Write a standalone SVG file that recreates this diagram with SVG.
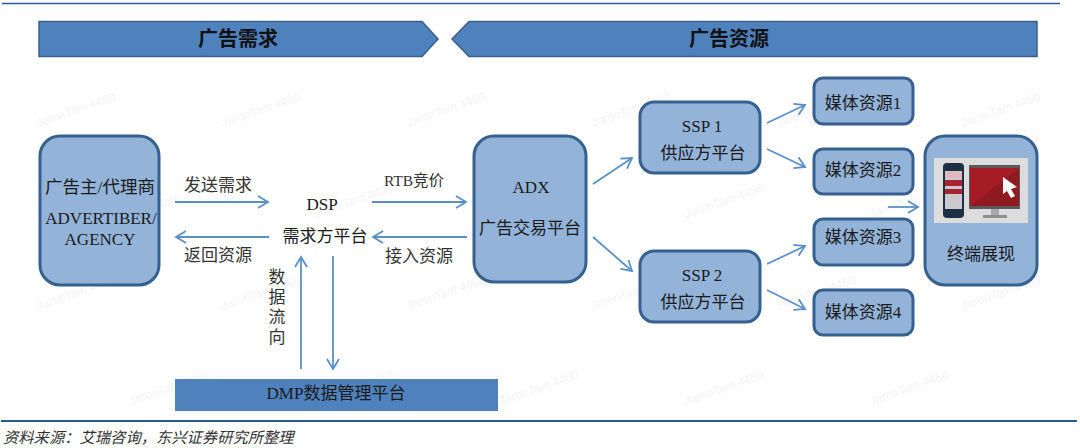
<svg xmlns="http://www.w3.org/2000/svg" width="1080" height="448" viewBox="0 0 1080 448">
<style>
text{font-family:"Liberation Serif","Noto Sans CJK SC",serif;fill:#1a1a1a;text-anchor:middle}
.l{font-size:17px;fill:#333}
.n{font-size:17px}
.h{font-size:20px;font-weight:bold;fill:#111}
.box{fill:#93b3d9;stroke:#36618f;stroke-width:3}
.ban{fill:#4f81bd;stroke:#3a6089;stroke-width:1.5}
.c{fill:none;stroke:#5b8fc6;stroke-width:1.8;marker-end:url(#a)}
.w{font-family:"Liberation Sans",sans-serif;font-size:12px;fill:#f3f4f6;text-anchor:start}
</style>
<defs>
<marker id="a" markerUnits="userSpaceOnUse" markerWidth="14" markerHeight="16" refX="11" refY="7" orient="auto">
<path d="M1 1L11 7L1 13" fill="none" stroke="#5b8fc6" stroke-width="1.8"/>
</marker>
</defs>
<rect width="1080" height="448" fill="#fff"/>
<g id="watermarks">
<text class="w" transform="translate(38 127) rotate(-19)">JaronTam 4460</text>
<text class="w" transform="translate(223 127) rotate(-19)">JaronTam 4460</text>
<text class="w" transform="translate(408 127) rotate(-19)">JaronTam 4460</text>
<text class="w" transform="translate(593 127) rotate(-19)">JaronTam 4460</text>
<text class="w" transform="translate(778 127) rotate(-19)">JaronTam 4460</text>
<text class="w" transform="translate(963 127) rotate(-19)">JaronTam 4460</text>
<text class="w" transform="translate(38 310) rotate(-19)">JaronTam 4460</text>
<text class="w" transform="translate(223 310) rotate(-19)">JaronTam 4460</text>
<text class="w" transform="translate(408 310) rotate(-19)">JaronTam 4460</text>
<text class="w" transform="translate(593 310) rotate(-19)">JaronTam 4460</text>
<text class="w" transform="translate(778 310) rotate(-19)">JaronTam 4460</text>
<text class="w" transform="translate(963 310) rotate(-19)">JaronTam 4460</text>
<text class="w" transform="translate(131 218) rotate(-19)">JaronTam 4460</text>
<text class="w" transform="translate(316 218) rotate(-19)">JaronTam 4460</text>
<text class="w" transform="translate(501 218) rotate(-19)">JaronTam 4460</text>
<text class="w" transform="translate(686 218) rotate(-19)">JaronTam 4460</text>
<text class="w" transform="translate(871 218) rotate(-19)">JaronTam 4460</text>
<text class="w" transform="translate(131 405) rotate(-19)">JaronTam 4460</text>
<text class="w" transform="translate(316 405) rotate(-19)">JaronTam 4460</text>
<text class="w" transform="translate(501 405) rotate(-19)">JaronTam 4460</text>
<text class="w" transform="translate(686 405) rotate(-19)">JaronTam 4460</text>
<text class="w" transform="translate(871 405) rotate(-19)">JaronTam 4460</text>
</g>
<g id="rules">
<line x1="2" y1="3.5" x2="1060" y2="3.5" stroke="#2c5a8a" stroke-width="1.5"/>
<line x1="1" y1="421" x2="1077" y2="421" stroke="#2c5a8a" stroke-width="1.8"/>
</g>
<g id="banner-demand">
<path class="ban" d="M39 21.500H422L438 39L422 56.500H39Z"/>
<text class="h" x="238" y="46">广告需求</text>
</g>
<g id="banner-resource">
<path class="ban" d="M1037 21.500H469L452 39L469 56.500H1037Z"/>
<text class="h" x="729" y="46">广告资源</text>
</g>
<g id="advertiser">
<rect class="box" x="40" y="136" width="119" height="149" rx="20"/>
<text x="100" y="193" style="font-size:17.500px">广告主/代理商</text>
<text class="n" x="101" y="224">ADVERTIBER/</text>
<text class="n" x="100" y="245">AGENCY</text>
</g>
<g id="dsp">
<text class="n" x="322" y="210">DSP</text>
<text class="n" x="325" y="242">需求方平台</text>
</g>
<g id="adx">
<rect class="box" x="474" y="136" width="112" height="146" rx="20"/>
<text class="n" x="531" y="193">ADX</text>
<text class="n" x="530" y="234">广告交易平台</text>
</g>
<g id="ssp1">
<rect class="box" x="640" y="102" width="120" height="71" rx="14"/>
<text class="n" x="702" y="132">SSP 1</text>
<text class="n" x="703" y="159">供应方平台</text>
</g>
<g id="ssp2">
<rect class="box" x="640" y="251" width="120" height="71" rx="14"/>
<text class="n" x="702" y="281">SSP 2</text>
<text class="n" x="703" y="308">供应方平台</text>
</g>
<g id="media1">
<rect class="box" x="814" y="78" width="99" height="46" rx="9"/>
<text class="n" x="863" y="109">媒体资源1</text>
</g>
<g id="media2">
<rect class="box" x="814" y="149" width="99" height="45" rx="9"/>
<text class="n" x="863" y="176">媒体资源2</text>
</g>
<g id="media3">
<rect class="box" x="814" y="219" width="99" height="46" rx="9"/>
<text class="n" x="863" y="243">媒体资源3</text>
</g>
<g id="media4">
<rect class="box" x="814" y="290" width="99" height="45" rx="9"/>
<text class="n" x="863" y="318">媒体资源4</text>
</g>
<g id="terminal">
<rect class="box" x="925" y="136" width="112" height="149" rx="20"/>
<rect x="934" y="158" width="94" height="65" fill="#dcdcdc"/>
<rect x="943" y="163" width="21" height="55" rx="4" fill="#1f2f45"/>
<rect x="945" y="171" width="17" height="38" fill="#c9c9cf"/>
<rect x="945" y="172" width="17" height="6" fill="#e0b8bc"/>
<rect x="945" y="180" width="17" height="6" fill="#a82530"/>
<rect x="945" y="189" width="17" height="5" fill="#a82530"/>
<rect x="969" y="165" width="51" height="44" fill="#5a5a5a"/>
<rect x="970" y="168" width="49" height="38" fill="#a51c24"/>
<path d="M970 206L1019 168V206Z" fill="#8f1a20"/>
<path d="M1003 177L1017 187L1011 189L1015 196L1011 198L1007 191L1003 194Z" fill="#fff"/>
<rect x="991" y="209" width="8" height="6" fill="#a8a8a8"/>
<rect x="983" y="215" width="24" height="3" fill="#8f8f8f"/>
<text class="n" x="981" y="260">终端展现</text>
</g>
<g id="dmp">
<rect x="175" y="379" width="323" height="32" fill="#4f81bd"/>
<text class="n" x="336" y="399">DMP数据管理平台</text>
</g>
<g id="connectors">
<line class="c" x1="175" y1="202" x2="268" y2="202"/>
<line class="c" x1="372" y1="202" x2="466" y2="202"/>
<line class="c" x1="269" y1="237" x2="176" y2="237"/>
<line class="c" x1="467" y1="237" x2="373" y2="237"/>
<line class="c" x1="301" y1="369" x2="301" y2="257"/>
<line class="c" x1="333" y1="256" x2="333" y2="369"/>
<line class="c" x1="593" y1="184" x2="632" y2="158"/>
<line class="c" x1="593" y1="237" x2="632" y2="271"/>
<line class="c" x1="767" y1="123" x2="805" y2="105"/>
<line class="c" x1="767" y1="149" x2="805" y2="167"/>
<line class="c" x1="767" y1="264" x2="805" y2="246"/>
<line class="c" x1="767" y1="290" x2="805" y2="309"/>
<line class="c" x1="888" y1="207" x2="918" y2="207"/>
</g>
<g id="labels">
<text class="l" x="218" y="191">发送需求</text>
<text x="414" y="186" style="font-size:15.500px;fill:#333">RTB竞价</text>
<text class="l" x="218" y="261">返回资源</text>
<text class="l" x="419" y="262">接入资源</text>
<text class="l" x="277" y="283">数</text>
<text class="l" x="277" y="303">据</text>
<text class="l" x="277" y="323">流</text>
<text class="l" x="277" y="343">向</text>
<text x="3" y="443" font-style="italic" style="font-size:15.300px;text-anchor:start;fill:#333">资料来源：艾瑞咨询，东兴证券研究所整理</text>
</g>
</svg>
